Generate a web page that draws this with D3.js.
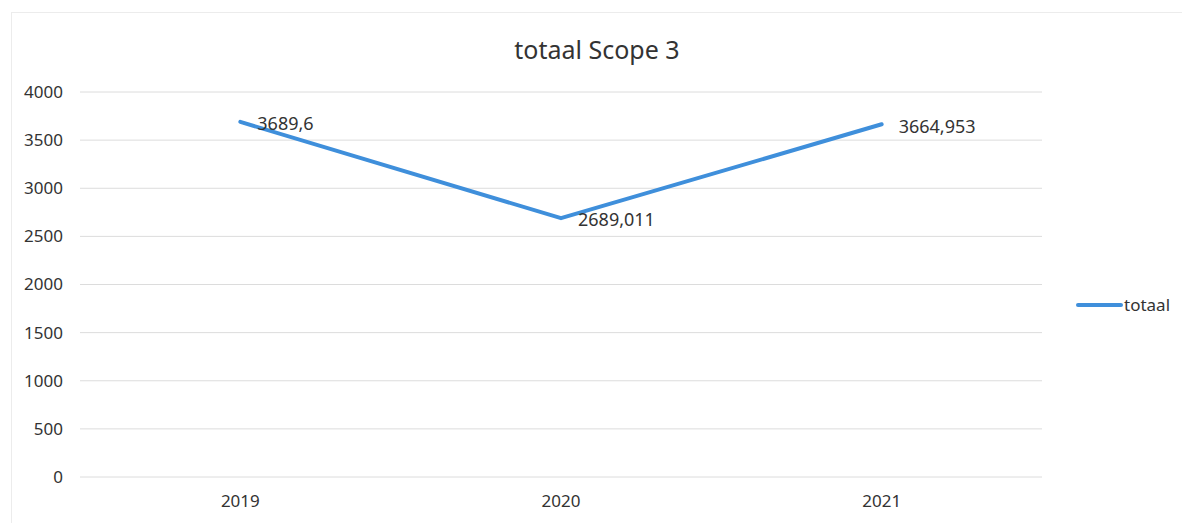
<!DOCTYPE html>
<html>
<head>
<meta charset="utf-8">
<script src="https://cdn.jsdelivr.net/npm/d3@7"></script>
<style>
  body { margin: 0; background: #fff; }
  text { font-family: "Noto Sans", "Open Sans", sans-serif; fill: #333; }
</style>
</head>
<body>
<div id="chart"></div>
<script>
const years = ["2019", "2020", "2021"];
const totaal = [3689.6, 2689.011, 3664.953];
const labels = ["3689,6", "2689,011", "3664,953"];
const yTicks = [0, 500, 1000, 1500, 2000, 2500, 3000, 3500, 4000];

const W = 1182, H = 523;
const margin = { top: 92, right: 140, bottom: 46, left: 80 },
  width = 1042 - margin.left,
  height = 477 - margin.top;

const svg = d3.select("#chart").append("svg")
  .attr("width", W).attr("height", H);

// faint chart border
svg.append("rect")
  .attr("x", 11.5).attr("y", 12.5)
  .attr("width", W).attr("height", H)
  .attr("fill", "none").attr("stroke", "#ececec");

const g = svg.append("g")
  .attr("transform", "translate(" + margin.left + "," + margin.top + ")");

const x = d3.scaleBand().domain(years).range([0, width]);
const y = d3.scaleLinear().domain([0, 4000]).range([height, 0]);

// gridlines
g.selectAll(".grid").data(yTicks).enter().append("line")
  .attr("x1", 0).attr("x2", width)
  .attr("y1", d => y(d)).attr("y2", d => y(d))
  .attr("stroke", "#dcdcdc").attr("stroke-width", 1);

const yAxis = g.append("g")
  .call(d3.axisLeft(y).tickValues(yTicks).tickFormat(d3.format("d")).tickSize(0).tickPadding(17));
yAxis.select(".domain").remove();
yAxis.selectAll("text").style("font-size", "17px").style("font-family", "Noto Sans").style("fill", "#333");

const xAxis = g.append("g").attr("transform", "translate(0," + height + ")")
  .call(d3.axisBottom(x).tickSize(0).tickPadding(18));
xAxis.select(".domain").remove();
xAxis.selectAll("text").style("font-size", "17px").style("font-family", "Noto Sans").style("fill", "#333");

const line = d3.line()
  .x((d, i) => x(years[i]) + x.bandwidth() / 2)
  .y(d => y(d));

g.append("path").datum(totaal)
  .attr("d", line)
  .attr("fill", "none")
  .attr("stroke", "#3f8fdb")
  .attr("stroke-width", 4)
  .attr("stroke-linecap", "round")
  .attr("stroke-linejoin", "round");

g.selectAll(".lbl").data(totaal).enter().append("text")
  .attr("x", (d, i) => x(years[i]) + x.bandwidth() / 2 + 17)
  .attr("y", d => y(d) + 2)
  .attr("dy", "0.35em")
  .style("font-size", "18px")
  .text((d, i) => labels[i]);

// title
svg.append("text")
  .attr("x", 597).attr("y", 59)
  .attr("text-anchor", "middle")
  .style("font-size", "25px")
  .text("totaal Scope 3");

// legend
const lg = svg.append("g").attr("transform", "translate(1078,305)");
lg.append("line").attr("x1", 0).attr("x2", 43).attr("y1", 0).attr("y2", 0)
  .attr("stroke", "#3f8fdb").attr("stroke-width", 4).attr("stroke-linecap", "round");
lg.append("text").attr("x", 46).attr("y", 0).attr("dy", "0.35em")
  .style("font-size", "17px").text("totaal");
</script>
</body>
</html>
